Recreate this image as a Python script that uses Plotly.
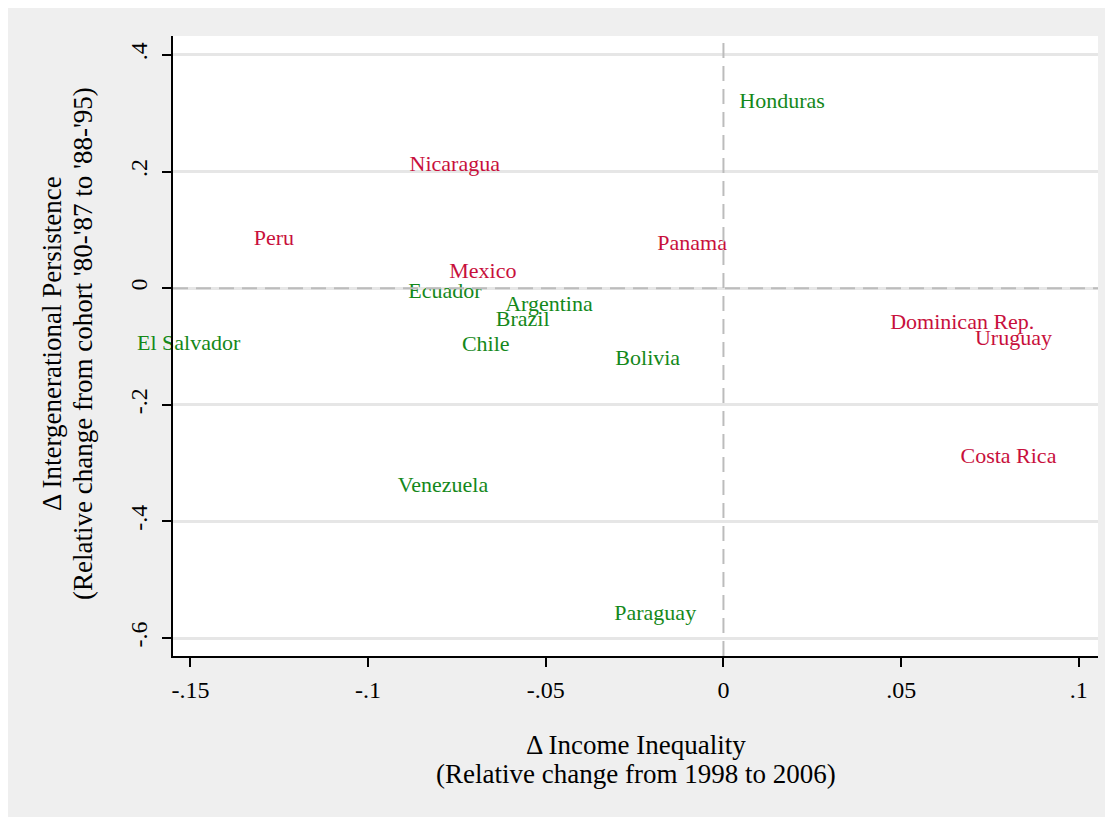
import plotly.graph_objects as go

# ---- data (text label centres) ----
red_countries = ["Nicaragua", "Peru", "Panama", "Mexico", "Dominican Rep.", "Uruguay", "Costa Rica"]
red_x = [-0.0756, -0.1265, -0.0088, -0.0677, 0.0672, 0.0816, 0.0802]
red_y = [0.210, 0.083, 0.0745, 0.0266, -0.0608, -0.0883, -0.2905]

green_countries = ["Honduras", "Ecuador", "Argentina", "Brazil", "El Salvador", "Chile",
                   "Bolivia", "Venezuela", "Paraguay"]
green_x = [0.0165, -0.0784, -0.0491, -0.0565, -0.1505, -0.0669, -0.0213, -0.0789, -0.0192]
green_y = [0.318, -0.0077, -0.030, -0.0557, -0.0968, -0.0985, -0.1225, -0.340, -0.5596]

x_ticks = [-0.15, -0.1, -0.05, 0, 0.05, 0.1]
x_ticklabels = ["-.15", "-.1", "-.05", "0", ".05", ".1"]
y_ticks = [0.4, 0.2, 0, -0.2, -0.4, -0.6]
y_ticklabels = [".4", ".2", "0", "-.2", "-.4", "-.6"]
ref_x = 0
ref_y = 0

x_title = ["\u0394 Income Inequality", "(Relative change from 1998 to 2006)"]
y_title = ["\u0394 Intergenerational Persistence", "(Relative change from cohort '80-'87 to '88-'95)"]

FONT = "Liberation Serif"
RED = "#c8103c"
GREEN = "#14881a"
BG = "#efefef"

fig = go.Figure()
fig.add_trace(go.Scatter(x=red_x, y=red_y, text=red_countries, mode="text",
                         textposition="middle center", cliponaxis=False,
                         textfont=dict(family=FONT, size=22, color=RED),
                         showlegend=False, hoverinfo="skip"))
fig.add_trace(go.Scatter(x=green_x, y=green_y, text=green_countries, mode="text",
                         textposition="middle center", cliponaxis=False,
                         textfont=dict(family=FONT, size=22, color=GREEN),
                         showlegend=False, hoverinfo="skip"))

W, H = 1113, 817
OFF = 8  # page offset of the figure inside the screenshot
L, T = 173 - OFF, 36 - OFF
R = W - (1098 - OFF)
B = H - (656 - OFF)
pw, ph = W - L - R, H - T - B

def px(xp):
    return (xp - OFF - L) / pw

def py(yp):
    return (H - B - (yp - OFF)) / ph

shapes = [
    dict(type="line", xref="x", yref="paper", x0=ref_x, x1=ref_x, y0=0, y1=1,
         line=dict(color="#bcbcbc", width=2, dash="15px,8px"), layer="above"),
    dict(type="line", xref="paper", yref="y", x0=0, x1=1, y0=ref_y, y1=ref_y,
         line=dict(color="#bcbcbc", width=2, dash="15px,8px"), layer="above"),
]

annotations = []
for t, yy in zip(x_title, [745, 774]):
    annotations.append(dict(text=t, xref="paper", yref="paper", x=px(636), y=py(yy),
                            xanchor="center", yanchor="middle", showarrow=False,
                            font=dict(family=FONT, size=27, color="black")))
for t, xx in zip(y_title, [52, 83]):
    annotations.append(dict(text=t, xref="paper", yref="paper", x=px(xx), y=py(344),
                            xanchor="center", yanchor="middle", showarrow=False, textangle=-90,
                            font=dict(family=FONT, size=27, color="black")))

fig.update_layout(
    width=W, height=H,
    margin=dict(l=L, r=R, t=T, b=B, pad=0),
    paper_bgcolor=BG,
    plot_bgcolor="white",
    shapes=shapes,
    annotations=annotations,
    xaxis=dict(range=[-0.1549, 0.1054], tickvals=x_ticks, ticktext=x_ticklabels,
               showgrid=False, zeroline=False, showline=True, linecolor="black", linewidth=1.5,
               ticks="outside", ticklen=9, tickwidth=1.5, tickcolor="black",
               tickfont=dict(family=FONT, size=24, color="black"), ticklabelstandoff=2),
    yaxis=dict(range=[-0.6308, 0.4325], tickvals=y_ticks, ticktext=y_ticklabels,
               showgrid=True, gridcolor="#e6e6e6", gridwidth=2.5,
               zeroline=False, showline=True, linecolor="black", linewidth=1.5,
               ticks="outside", ticklen=9, tickwidth=1.5, tickcolor="black", tickangle=-90,
               tickfont=dict(family=FONT, size=24, color="black"), ticklabelstandoff=6),
)

fig.write_html("out.html")
